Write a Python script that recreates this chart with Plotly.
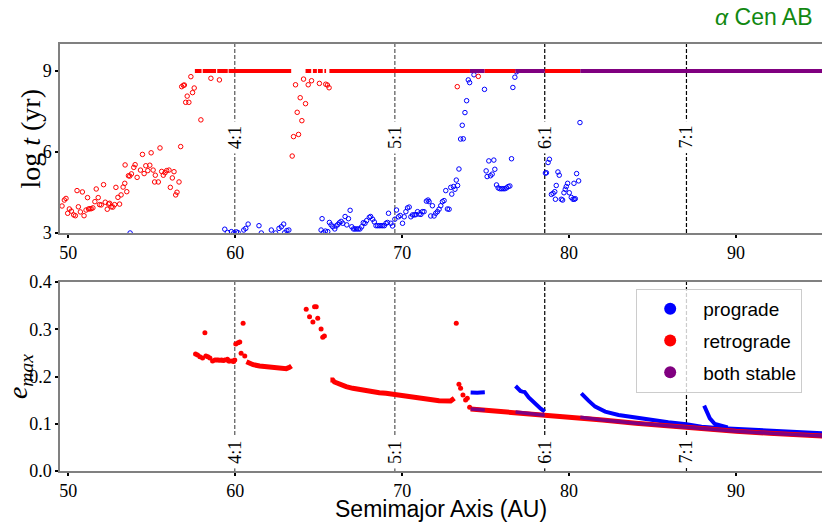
import plotly.graph_objects as go

# ---- data ----
# top panel: lifetime of unstable orbits (open circles)
retro_a = [49.62, 49.76, 49.86, 49.96, 50.06, 50.18, 50.32, 50.42, 50.52, 50.60, 50.72, 50.84,
           50.94, 51.06, 51.15, 51.21, 51.29, 51.37, 51.47, 51.59, 51.67, 51.79, 51.87, 51.97,
           52.11, 52.21, 52.33, 52.41, 52.47, 52.57, 52.67, 52.77, 52.85, 52.97, 53.07, 53.16,
           53.28, 53.38, 53.50, 53.40, 53.60, 53.68, 53.78, 53.92, 54.00, 54.12, 54.32, 54.44,
           54.54, 54.64, 54.76, 54.88, 54.96, 55.08, 55.17, 55.21, 55.39, 55.49, 55.59, 55.69,
           55.79, 55.89, 56.03, 56.11, 56.23, 56.33, 56.43, 56.51, 56.63, 56.73, 56.79, 56.89,
           56.95, 57.03, 57.12, 57.22, 57.34, 57.44, 57.54, 57.94, 58.54, 59.05,
           63.41, 63.49, 63.61, 63.71, 63.79, 63.89, 63.99, 64.09, 64.21, 64.37, 64.57, 65.04,
           65.42, 65.52, 65.62, 73.30, 74.56]
retro_logt = [4.00, 4.22, 4.28, 3.73, 3.89, 3.81, 3.67, 3.64, 4.57, 3.97, 3.78, 4.52,
              3.64, 3.85, 4.31, 3.89, 3.90, 3.90, 3.93, 4.16, 4.63, 4.31, 4.05, 4.04,
              4.79, 4.14, 3.88, 4.07, 4.10, 3.97, 3.96, 4.05, 4.69, 4.32, 4.07, 4.41,
              4.70, 4.84, 4.53, 5.52, 5.12, 5.11, 5.19, 5.43, 5.53, 5.06, 5.33, 5.91,
              5.20, 5.49, 5.31, 5.51, 5.97, 5.33, 4.89, 5.14, 4.89, 6.15, 5.28, 5.14,
              5.23, 5.31, 5.33, 4.69, 5.04, 5.27, 4.41, 4.51, 4.89, 6.20, 8.42, 8.47,
              8.48, 7.84, 8.07, 7.84, 8.79, 8.20, 8.37, 7.19, 8.73, 8.67,
              5.85, 6.57, 8.49, 7.47, 6.65, 8.01, 7.16, 8.70, 7.79, 8.49, 8.64, 8.54,
              8.51, 8.48, 8.38, 8.42, 8.80]

pro_a = [53.70, 59.37, 59.53, 59.77, 59.91, 60.07, 60.17, 60.51, 60.63, 60.77, 61.42, 61.56,
         62.16, 62.42, 62.62, 62.76, 62.90, 62.96, 63.09, 63.21, 65.14, 65.20, 65.28, 65.40,
         65.54, 65.64, 65.74, 65.84, 65.96, 66.04, 66.14, 66.24, 66.34, 66.44, 66.58, 66.68,
         66.78, 66.88, 66.98, 67.08, 67.17, 67.27, 67.37, 67.47, 67.57, 67.67, 67.77, 67.87,
         68.03, 68.11, 68.23, 68.33, 68.43, 68.53, 68.63, 68.73, 68.83, 68.93, 69.03, 69.12,
         69.18, 69.32, 69.42, 69.56, 69.66, 69.78, 69.88, 70.02, 70.12, 70.22, 70.32, 70.42,
         70.52, 70.62, 70.72, 70.82, 70.92, 71.02, 71.12, 71.21, 71.31, 71.45, 71.55, 71.61,
         71.71, 71.81, 71.91, 72.01, 72.11, 72.21, 72.31, 72.41, 72.51, 72.61, 72.71, 72.81,
         72.91, 72.97, 73.07, 73.16, 73.24, 73.32, 73.40, 73.50, 73.66, 73.60, 73.76, 73.86,
         73.96, 74.04, 74.30, 74.93, 75.03, 75.09, 75.19, 75.29, 75.39, 75.49, 75.55, 75.65,
         75.75, 75.85, 75.95, 76.05, 76.15, 76.25, 76.35, 76.45, 76.55, 76.63, 76.75, 76.85,
         78.58, 78.64, 78.74, 78.82, 78.94, 79.04, 79.14, 79.18, 79.23, 79.33, 79.41, 79.53,
         79.61, 79.69, 79.77, 79.83, 79.91, 80.01, 80.13, 80.23, 80.29, 80.31, 80.37, 80.45,
         80.57, 80.65]
pro_logt = [3.00, 3.14, 3.02, 3.05, 3.00, 3.04, 3.01, 3.11, 3.17, 3.33, 3.27, 3.00,
            3.11, 3.00, 3.17, 3.23, 3.33, 3.01, 3.09, 3.11, 3.11, 3.53, 3.01, 3.07,
            3.05, 3.39, 3.30, 3.23, 3.15, 3.26, 3.31, 3.38, 3.43, 3.36, 3.61, 3.30,
            3.53, 3.84, 3.23, 3.15, 3.15, 3.15, 3.15, 3.15, 3.23, 3.38, 3.36, 3.46,
            3.58, 3.61, 3.51, 3.41, 3.27, 3.27, 3.27, 3.27, 3.27, 3.27, 3.36, 3.39,
            3.73, 3.36, 3.26, 3.51, 3.85, 3.60, 3.65, 3.36, 3.60, 3.79, 3.93, 3.96,
            3.60, 3.67, 3.67, 3.68, 3.79, 3.70, 3.69, 3.79, 3.79, 4.18, 4.22, 4.16,
            3.63, 4.01, 3.63, 3.73, 3.79, 3.88, 4.01, 4.16, 4.20, 4.57, 3.89, 3.88,
            4.69, 4.44, 4.72, 4.62, 4.96, 4.76, 5.37, 6.48, 6.49, 6.99, 7.46, 7.90,
            8.67, 8.57, 8.86, 8.32, 5.30, 5.09, 5.67, 5.12, 5.18, 5.70, 5.36, 4.78,
            4.67, 4.64, 4.64, 4.64, 4.64, 4.67, 4.72, 4.74, 5.75, 8.39, 8.77, 8.97,
            5.22, 5.23, 5.61, 5.73, 4.43, 4.47, 4.53, 4.25, 4.76, 5.26, 5.14, 4.25,
            4.22, 4.49, 4.62, 4.72, 4.84, 4.49, 4.32, 4.25, 4.84, 4.25, 4.27, 5.20,
            4.93, 7.09]

# stable orbits sit at the integration limit log t = 9 (start / end of each run)
t_max = 9
retro_stable_start = [57.58, 58.05, 58.92, 59.60, 64.21, 64.65, 64.95, 65.34, 65.64, 74.93, 78.54]
retro_stable_end = [57.98, 58.85, 59.55, 63.35, 64.55, 64.89, 65.24, 65.44, 74.06, 76.79, 80.67]
both_stable_start = [74.06, 76.79, 80.67]
both_stable_end = [74.93, 78.54, 95.20]

# bottom panel: maximum eccentricity
retro_e_dots_a = [57.62, 57.74, 57.88, 58.04, 58.18, 58.24, 58.36, 58.48, 58.64, 58.78, 58.88,
                  58.98, 59.08, 59.18, 59.28, 59.37, 59.53, 59.60, 59.67, 59.81, 59.90, 59.97,
                  60.03, 60.17, 60.27, 60.35, 60.47, 60.57,
                  64.25, 64.45, 64.65, 64.75, 64.85, 64.94, 65.14, 65.24, 65.34,
                  73.24, 73.40, 73.50, 73.64, 73.80, 73.90, 74.04]
retro_e_dots = [0.2476, 0.2455, 0.2420, 0.2390, 0.2928, 0.2434, 0.2420, 0.2390, 0.2328, 0.2350, 0.2350,
                0.2350, 0.2345, 0.2350, 0.2340, 0.2350, 0.2363, 0.2330, 0.2328, 0.2328, 0.2320, 0.2350,
                0.2688, 0.2716, 0.2730, 0.2490, 0.3125, 0.2434,
                0.3422, 0.3266, 0.3153, 0.3478, 0.3478, 0.3231, 0.3005, 0.2829, 0.2857,
                0.3125, 0.1834, 0.1750, 0.1608, 0.1503, 0.1538, 0.1348]

# dense runs of retrograde points (None = break between runs)
retro_e_run_a = [60.67, 60.87, 61.07, 61.46, 61.86, 62.26, 62.66, 63.06, 63.25, 63.37, None,
                 65.70, 65.84, 65.94, 66.24, 66.64, 67.04, 67.43, 67.83, 68.23, 68.63, 69.03,
                 69.56, 70.22, 71.01, 72.21, 72.90, 73.05, 73.12, None,
                 74.10, 76.00, 78.54, 80.00, 82.00, 84.00, 86.00, 88.00, 90.00, 92.00, 94.00, 95.20]
retro_e_run = [0.2314, 0.2279, 0.2250, 0.2222, 0.2208, 0.2187, 0.2173, 0.2166, 0.2194, 0.2222, None,
               0.1926, 0.1926, 0.1884, 0.1834, 0.1785, 0.1750, 0.1721, 0.1693, 0.1672, 0.1658, 0.1644,
               0.1615, 0.1580, 0.1531, 0.1489, 0.1480, 0.1505, 0.1540, None,
               0.1310, 0.1260, 0.1180, 0.1140, 0.1080, 0.1010, 0.0950, 0.0890, 0.0840, 0.0800, 0.0760, 0.0740]

pro_e_run_a = [74.10, 74.30, 74.50, 74.70, 74.95, None,
               76.79, 76.90, 77.08, 77.20, 77.34, 77.58, 77.98, 78.30, 78.54, None,
               80.73, 80.90, 81.16, 81.56, 82.16, 82.96, 83.95, 84.95, 85.94, 87.03, 87.93,
               88.90, 89.92, 91.91, 93.90, 95.20, None,
               88.09, 88.23, 88.43, 88.73, 89.12, 89.50]
pro_e_run = [0.1661, 0.1650, 0.1655, 0.1660, 0.1665, None,
             0.1799, 0.1750, 0.1693, 0.1680, 0.1672, 0.1559, 0.1418, 0.1320, 0.1256, None,
             0.1644, 0.1570, 0.1489, 0.1362, 0.1256, 0.1185, 0.1129, 0.1079, 0.1030, 0.0988, 0.0938,
             0.0910, 0.0889, 0.0854, 0.0818, 0.0797, None,
             0.1383, 0.1256, 0.1115, 0.0995, 0.0952, 0.0920]

both_e_run_a = [74.10, 74.50, 74.95, None, 76.79, 77.50, 78.54, None,
                80.67, 82.00, 84.00, 86.00, 88.00, 90.00, 92.00, 94.00, 95.20]
both_e_run = [0.1310, 0.1300, 0.1290, None, 0.1250, 0.1220, 0.1180, None,
              0.1140, 0.1080, 0.1010, 0.0950, 0.0890, 0.0840, 0.0800, 0.0760, 0.0740]

resonances = ["4:1", "5:1", "6:1", "7:1"]
resonance_a = [59.97, 69.56, 78.54, 87.03]
resonance_color = ["#555555", "#555555", "black", "black"]

RED = "#ff0000"
BLUE = "#0000ff"
PURPLE = "#800080"
SERIF = "Liberation Serif"
SANS = "Liberation Sans"

fig = go.Figure()

# top panel
fig.add_trace(go.Scatter(x=pro_a, y=pro_logt, mode="markers", showlegend=False,
                         marker=dict(symbol="circle-open", size=4.5, color=BLUE, line=dict(width=1)),
                         xaxis="x", yaxis="y"))
fig.add_trace(go.Scatter(x=retro_a, y=retro_logt, mode="markers", showlegend=False,
                         marker=dict(symbol="circle-open", size=4.5, color=RED, line=dict(width=1)),
                         xaxis="x", yaxis="y"))

seg_x, seg_y = [], []
for s, e in zip(retro_stable_start, retro_stable_end):
    seg_x += [s, e, None]
    seg_y += [t_max, t_max, None]
fig.add_trace(go.Scatter(x=seg_x, y=seg_y, mode="lines", showlegend=False,
                         line=dict(color=RED, width=4), xaxis="x", yaxis="y"))
seg_x, seg_y = [], []
for s, e in zip(both_stable_start, both_stable_end):
    seg_x += [s, e, None]
    seg_y += [t_max, t_max, None]
fig.add_trace(go.Scatter(x=seg_x, y=seg_y, mode="lines", showlegend=False,
                         line=dict(color=PURPLE, width=4), xaxis="x", yaxis="y"))

# bottom panel
fig.add_trace(go.Scatter(x=pro_e_run_a, y=pro_e_run, mode="lines", showlegend=False,
                         line=dict(color=BLUE, width=4), xaxis="x2", yaxis="y2"))
fig.add_trace(go.Scatter(x=retro_e_run_a, y=retro_e_run, mode="lines", showlegend=False,
                         line=dict(color=RED, width=5), xaxis="x2", yaxis="y2"))
fig.add_trace(go.Scatter(x=retro_e_dots_a, y=retro_e_dots, mode="markers", showlegend=False,
                         marker=dict(size=5, color=RED), xaxis="x2", yaxis="y2"))
fig.add_trace(go.Scatter(x=both_e_run_a, y=both_e_run, mode="lines", showlegend=False,
                         line=dict(color=PURPLE, width=3.5), xaxis="x2", yaxis="y2"))

# legend entries
for name, col in [("prograde", BLUE), ("retrograde", RED), ("both stable", PURPLE)]:
    fig.add_trace(go.Scatter(x=[None], y=[None], mode="markers", name=name, legendgroup=name,
                             marker=dict(size=12, color=col), xaxis="x2", yaxis="y2"))

# resonance lines + labels
for lab, a, col in zip(resonances, resonance_a, resonance_color):
    for yr, ylab in [("y", 6.55), ("y2", 0.04)]:
        fig.add_shape(type="line", xref="x" if yr == "y" else "x2", yref=yr + " domain",
                      x0=a, x1=a, y0=0, y1=1, layer="below",
                      line=dict(color=col, width=1.2, dash="4px,2px"))
        fig.add_annotation(x=a, y=ylab, xref="x" if yr == "y" else "x2", yref=yr,
                           text=lab, textangle=-90, showarrow=False, bgcolor="white",
                           borderpad=4, font=dict(family=SERIF, size=18, color="black"))

axis_common = dict(showgrid=False, zeroline=False, showline=True, mirror=True,
                   linecolor="#808080", linewidth=1.5, ticks="outside", ticklen=3,
                   tickwidth=2, tickcolor="black",
                   tickfont=dict(family=SERIF, size=18, color="black"))

# page body has an 8px offset, so the figure is 8px smaller and margins shifted
fig.update_layout(
    width=822, height=521, autosize=False,
    margin=dict(l=52, r=6, t=36, b=58),
    paper_bgcolor="white", plot_bgcolor="white",
    xaxis=dict(domain=[0, 1], anchor="y", range=[49.5, 95.15],
               tickvals=[50, 60, 70, 80, 90], **axis_common),
    yaxis=dict(domain=[0.5574, 1], anchor="x", range=[3, 10],
               tickvals=[3, 6, 9], **axis_common),
    xaxis2=dict(domain=[0, 1], anchor="y2", range=[49.5, 95.15], matches="x",
                tickvals=[50, 60, 70, 80, 90], **axis_common),
    yaxis2=dict(domain=[0, 0.4426], anchor="x2", range=[0, 0.4],
                tickvals=[0, 0.1, 0.2, 0.3, 0.4],
                ticktext=["0.0", "0.1", "0.2", "0.3", "0.4"], **axis_common),
    legend=dict(x=0.974, y=0.4263, xanchor="right", yanchor="top",
                bgcolor="rgba(255,255,255,0.8)", bordercolor="#cccccc", borderwidth=1,
                font=dict(family=SANS, size=19, color="black"),
                itemwidth=56, tracegroupgap=4, traceorder="grouped"),
    showlegend=True,
)

# axis titles and panel title
fig.add_annotation(x=-0.0393, y=0.7787, xref="paper", yref="paper", showarrow=False,
                   xanchor="center", yanchor="middle",
                   text="log <i>t</i> (yr)", textangle=-90,
                   font=dict(family=SERIF, size=28, color="black"))
fig.add_annotation(x=-0.053, y=0.2213, xref="paper", yref="paper", showarrow=False,
                   xanchor="center", yanchor="middle",
                   text="<i>e</i><sub><i>max</i></sub>", textangle=-90,
                   font=dict(family=SERIF, size=28, color="black"))
fig.add_annotation(x=0.5, y=-0.0887, xref="paper", yref="paper", showarrow=False,
                   xanchor="center", yanchor="middle", text="Semimajor Axis (AU)",
                   font=dict(family=SANS, size=23, color="black"))
fig.add_annotation(x=0.9908, y=1.063, xref="paper", yref="paper", showarrow=False,
                   xanchor="right", yanchor="middle", text="<i>α</i> Cen AB",
                   font=dict(family=SANS, size=23, color="#118811"))

fig.write_html("out.html")
